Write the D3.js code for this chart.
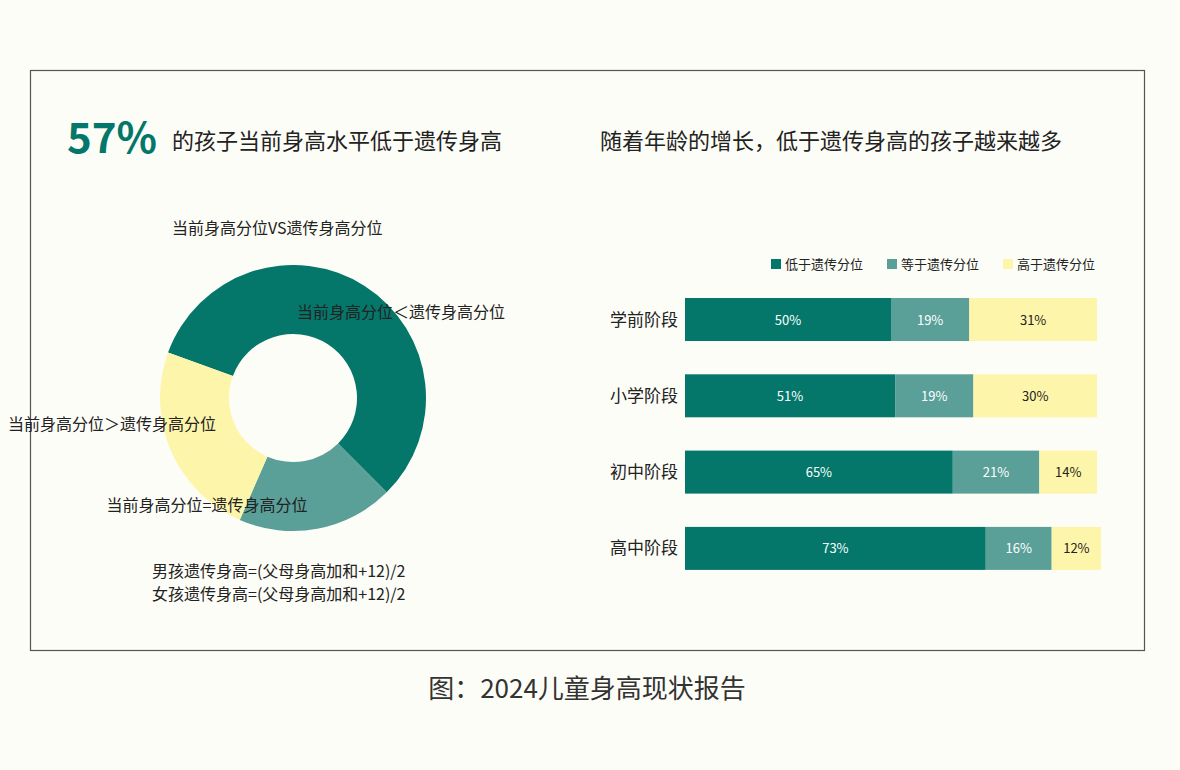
<!DOCTYPE html>
<html><head><meta charset="utf-8">
<script src="https://cdn.jsdelivr.net/npm/d3@7"></script>
<style>body{margin:0;background:#fdfdf7;}text{font-family:"Noto Sans CJK SC","Noto Sans",sans-serif;}</style>
</head><body>
<script>
// 数据
let pieLabels = ['当前身高分位＜遗传身高分位', '当前身高分位=遗传身高分位', '当前身高分位＞遗传身高分位'];
let pieValues = [57, 19, 24];
let stages = ['学前阶段', '小学阶段', '初中阶段', '高中阶段'];
let seriesNames = ['低于遗传分位', '等于遗传分位', '高于遗传分位'];
let lower = [50, 51, 65, 73];
let equal = [19, 19, 21, 16];
let higher = [31, 30, 14, 12];

let colors = ['#04776a', '#5a9f98', '#fdf5a9'];
let textColors = ['#ffffff', '#ffffff', '#222'];

let svg = d3.select('body').append('svg').attr('width', 1180).attr('height', 770);
svg.append('rect').attr('x', 30.5).attr('y', 70.5).attr('width', 1114).attr('height', 580)
    .attr('fill', '#fdfdf7').attr('stroke', '#555').attr('stroke-width', 1.2);

// 标题
svg.append('text').attr('x', 67).attr('y', 153).attr('font-size', 42).attr('font-weight', 'bold')
    .attr('fill', '#04776a').text('57%');
svg.append('text').attr('x', 172).attr('y', 149).attr('font-size', 22).attr('fill', '#222')
    .text('的孩子当前身高水平低于遗传身高');
svg.append('text').attr('x', 600).attr('y', 149).attr('font-size', 22).attr('fill', '#222')
    .text('随着年龄的增长，低于遗传身高的孩子越来越多');
svg.append('text').attr('x', 172).attr('y', 234).attr('font-size', 16).attr('fill', '#222')
    .text('当前身高分位VS遗传身高分位');
svg.append('text').attr('x', 152).attr('y', 577).attr('font-size', 16).attr('fill', '#222')
    .text('男孩遗传身高=(父母身高加和+12)/2');
svg.append('text').attr('x', 152).attr('y', 600).attr('font-size', 16).attr('fill', '#222')
    .text('女孩遗传身高=(父母身高加和+12)/2');

// 环形图
let pie = d3.pie().sort(null).startAngle(-70 * Math.PI / 180).endAngle(290 * Math.PI / 180);
let arc = d3.arc().innerRadius(64).outerRadius(133);
let g = svg.append('g').attr('transform', 'translate(293,398)');
g.selectAll('path').data(pie(pieValues)).enter().append('path')
    .attr('d', arc).attr('fill', (d, i) => colors[i]);
let labelPos = [[108, -80], [-86, 113], [-181, 32]];
g.selectAll('text.lab').data(pieLabels).enter().append('text')
    .attr('x', (d, i) => labelPos[i][0]).attr('y', (d, i) => labelPos[i][1])
    .attr('text-anchor', 'middle').attr('font-size', 16).attr('fill', '#222')
    .text(d => d);
g.selectAll('text.lab').attr('class', 'lab');

// 堆叠条形图
let x = d3.scaleLinear().domain([0, 100]).range([685, 1097]);
let y = d3.scaleBand().domain(stages).range([298, 574]).paddingInner(0.77).paddingOuter(0);
y.paddingInner(0); // compute manually below
let step = 76.3, barH = 43;
let rows = stages.map((s, i) => ({stage: s, vals: [lower[i], equal[i], higher[i]]}));
rows.forEach((r, i) => {
    let top = 298 + i * step;
    let acc = 0;
    svg.append('text').attr('x', 678).attr('y', top + barH / 2 + 6).attr('text-anchor', 'end')
        .attr('font-size', 17).attr('fill', '#222').text(r.stage);
    r.vals.forEach((v, j) => {
        svg.append('rect').attr('x', x(acc)).attr('y', top).attr('width', x(acc + v) - x(acc))
            .attr('height', barH).attr('fill', colors[j]);
        svg.append('text').attr('x', (x(acc) + x(acc + v)) / 2).attr('y', top + barH / 2 + 5)
            .attr('text-anchor', 'middle').attr('font-size', 13).attr('fill', textColors[j])
            .text(v + '%');
        acc += v;
    });
});

// 图例
let legendX = [771, 887, 1003];
seriesNames.forEach((n, i) => {
    svg.append('rect').attr('x', legendX[i]).attr('y', 259).attr('width', 10).attr('height', 10).attr('fill', colors[i]);
    svg.append('text').attr('x', legendX[i] + 14).attr('y', 269).attr('font-size', 13).attr('fill', '#222').text(n);
});

svg.append('text').attr('x', 587).attr('y', 698).attr('text-anchor', 'middle').attr('font-size', 26)
    .attr('fill', '#333').text('图：2024儿童身高现状报告');
</script>
</body></html>
